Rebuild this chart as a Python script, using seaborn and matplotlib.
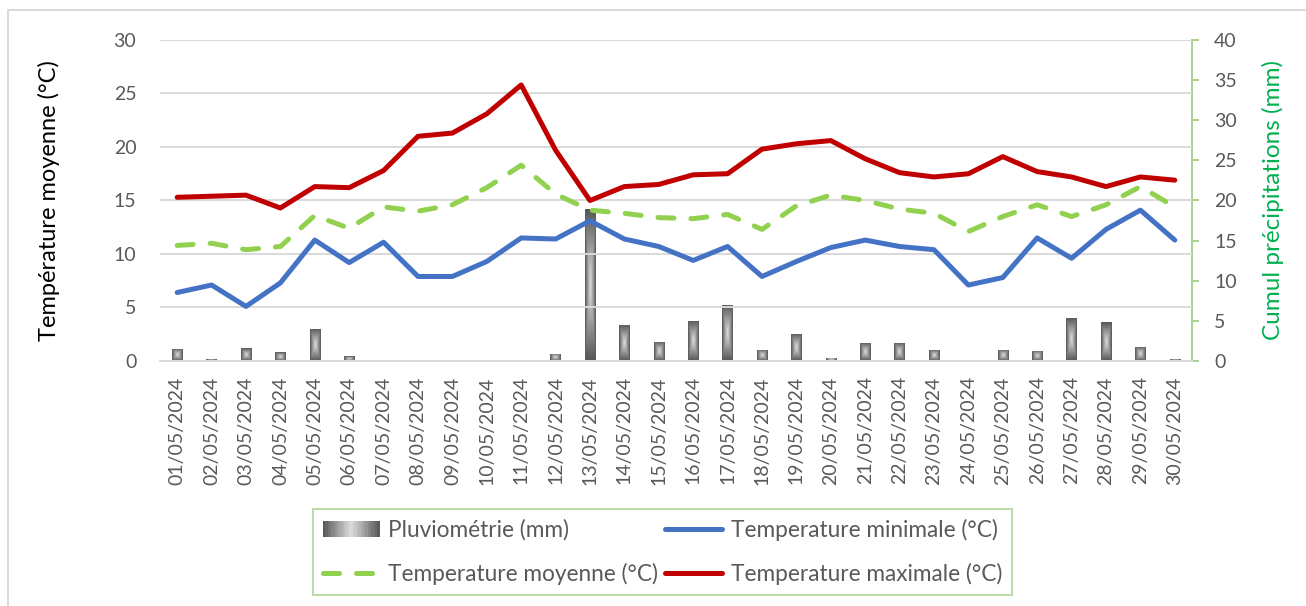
import numpy as np
import pandas as pd
import seaborn as sns
import matplotlib.pyplot as plt
from matplotlib.colors import LinearSegmentedColormap
from matplotlib.legend_handler import HandlerBase
from matplotlib.patches import Rectangle
from matplotlib.lines import Line2D

dates = ['01/05/2024', '02/05/2024', '03/05/2024', '04/05/2024', '05/05/2024',
         '06/05/2024', '07/05/2024', '08/05/2024', '09/05/2024', '10/05/2024',
         '11/05/2024', '12/05/2024', '13/05/2024', '14/05/2024', '15/05/2024',
         '16/05/2024', '17/05/2024', '18/05/2024', '19/05/2024', '20/05/2024',
         '21/05/2024', '22/05/2024', '23/05/2024', '24/05/2024', '25/05/2024',
         '26/05/2024', '27/05/2024', '28/05/2024', '29/05/2024', '30/05/2024']

# precipitation (mm), right axis
pluie = [1.5, 0.2, 1.6, 1.1, 4.0, 0.6, 0.0, 0.0, 0.0, 0.0,
         0.0, 0.9, 19.0, 4.5, 2.4, 5.0, 7.0, 1.4, 3.4, 0.4,
         2.3, 2.3, 1.4, 0.0, 1.4, 1.3, 5.4, 4.8, 1.8, 0.2]

# temperatures (°C), left axis
t_min = [6.4, 7.1, 5.1, 7.3, 11.3, 9.2, 11.1, 7.9, 7.9, 9.3,
         11.5, 11.4, 13.1, 11.4, 10.7, 9.4, 10.7, 7.9, 9.3, 10.6,
         11.3, 10.7, 10.4, 7.1, 7.8, 11.5, 9.6, 12.3, 14.1, 11.3]
t_moy = [10.8, 11.0, 10.4, 10.7, 13.6, 12.4, 14.4, 14.0, 14.6, 16.2,
         18.3, 15.6, 14.1, 13.8, 13.4, 13.3, 13.7, 12.3, 14.5, 15.5,
         15.0, 14.2, 13.8, 12.1, 13.5, 14.6, 13.5, 14.6, 16.3, 14.4]
t_max = [15.3, 15.4, 15.5, 14.3, 16.3, 16.2, 17.8, 21.0, 21.3, 23.1,
         25.8, 19.7, 15.0, 16.3, 16.5, 17.4, 17.5, 19.8, 20.3, 20.6,
         18.9, 17.6, 17.2, 17.5, 19.1, 17.7, 17.2, 16.3, 17.2, 16.9]

df = pd.DataFrame({'Date': dates, 'Pluie': pluie,
                   'Tmin': t_min, 'Tmoy': t_moy, 'Tmax': t_max})

sns.set_theme(style='white')
plt.rcParams['font.family'] = ['Lato', 'DejaVu Sans']

GRID = '#D9D9D9'
TXT = '#595959'
BLUE = '#4472C4'
GREEN = '#92D050'
RED = '#C00000'

grey_cmap = LinearSegmentedColormap.from_list('pluvio', ['#DEDEDE', '#9A9A9A', '#555555'])

fig = plt.figure(figsize=(13.06, 6.06), dpi=100)
ax = fig.add_axes([0.1225, 0.4043, 0.7902, 0.5297])
ax2 = ax.twinx()

# rain bars with a grey path gradient
sns.barplot(data=df, x='Date', y='Pluie', ax=ax2, width=0.3, color='grey',
            saturation=1, errorbar=None)
n = 128
u = np.linspace(-1, 1, n)
U, V = np.meshgrid(u, u)
grad = np.maximum(np.abs(U), np.abs(V))
for p in ax2.patches:
    h = p.get_height()
    if h <= 0:
        continue
    x0, y0, w = p.get_x(), p.get_y(), p.get_width()
    im = ax2.imshow(grad, extent=[x0, x0 + w, y0, y0 + h], cmap=grey_cmap,
                    vmin=0, vmax=1, aspect='auto', origin='lower',
                    interpolation='antialiased', zorder=p.get_zorder())
    im.set_clip_path(p)
    p.set_facecolor('none')
    p.set_edgecolor('none')

# temperature lines
sns.lineplot(data=df, x='Date', y='Tmin', ax=ax, color=BLUE, lw=3.6, sort=False)
sns.lineplot(data=df, x='Date', y='Tmoy', ax=ax, color=GREEN, lw=3.6, sort=False)
ax.lines[-1].set_dashes((3.2, 3.4))
ax.lines[-1].set_dash_capstyle('round')
sns.lineplot(data=df, x='Date', y='Tmax', ax=ax, color=RED, lw=3.6, sort=False)
for ln in ax.lines:
    ln.set_solid_capstyle('round')

ax.set_zorder(ax2.get_zorder() + 1)
ax.patch.set_visible(False)

ax.set_xlim(-0.5, 29.5)
ax.set_ylim(0, 30)
ax.set_yticks(range(0, 31, 5))
ax2.set_ylim(0, 40)
ax2.set_yticks(range(0, 41, 5))

ax.yaxis.grid(True, color=GRID, lw=1.4)
ax.xaxis.grid(False)
for s in ['left', 'top', 'right']:
    ax.spines[s].set_visible(False)
ax.spines['bottom'].set_color(GRID)
ax.spines['bottom'].set_linewidth(1.4)
for s in ['left', 'top', 'bottom']:
    ax2.spines[s].set_visible(False)
ax2.spines['right'].set_color('#A9D18E')
ax2.spines['right'].set_linewidth(1.4)

ax.tick_params(axis='y', length=0, pad=17, labelsize=14, labelcolor=TXT)
ax.tick_params(axis='x', length=0, pad=11, labelsize=14, labelcolor=TXT,
               labelrotation=90)
ax2.tick_params(axis='y', length=5, width=1.4, color='#A9D18E', pad=11,
                labelsize=14, labelcolor=TXT, direction='out')

ax.set_xlabel('')
ax2.set_xlabel('')
ax.set_ylabel('Température moyenne (°C)', fontsize=17, color='black')
ax.yaxis.set_label_coords(-0.097, 0.5)
ax2.set_ylabel('Cumul précipitations (mm)', fontsize=17.5, color='#00B050',
               rotation=90)
ax2.yaxis.set_label_coords(1.068, 0.5)


class GradientHandler(HandlerBase):
    def create_artists(self, legend, orig_handle, xdescent, ydescent,
                       width, height, fontsize, trans):
        k = 24
        arts = []
        for i in range(k):
            t = abs((i + 0.5) / k * 2 - 1)
            arts.append(Rectangle((-xdescent + i * width / k, -ydescent),
                                  width / k * 1.05, height,
                                  facecolor=grey_cmap(t), edgecolor='none',
                                  transform=trans))
        return arts


bar_handle = Rectangle((0, 0), 1, 1)
h_min = Line2D([], [], color=BLUE, lw=3.6, solid_capstyle='round')
h_moy = Line2D([], [], color=GREEN, lw=3.6, dashes=(3.2, 3.4),
               dash_capstyle='round')
h_max = Line2D([], [], color=RED, lw=3.6, solid_capstyle='round')
leg = fig.legend([bar_handle, h_moy, h_min, h_max],
                 ['Pluviométrie (mm)', 'Temperature moyenne (°C)',
                  'Temperature minimale (°C)', 'Temperature maximale (°C)'],
                 handler_map={bar_handle: GradientHandler()},
                 ncol=2, loc='center', bbox_to_anchor=(0.5073, 0.0891),
                 fontsize=16.3, frameon=True, fancybox=False,
                 handlelength=2.5, handletextpad=0.4, columnspacing=0.3,
                 labelspacing=1.0, borderpad=0.42)
leg.get_frame().set_edgecolor('#A9D18E')
leg.get_frame().set_linewidth(1.4)
for t in leg.get_texts():
    t.set_color(TXT)

# outer chart frame (top and left edges visible)
fig.add_artist(Line2D([8 / 1306, 8 / 1306], [0, 1 - 10 / 606],
                      transform=fig.transFigure, color=GRID, lw=1.4))
fig.add_artist(Line2D([8 / 1306, 1], [1 - 10 / 606, 1 - 10 / 606],
                      transform=fig.transFigure, color=GRID, lw=1.4))

fig.savefig('out.png', dpi=100)
